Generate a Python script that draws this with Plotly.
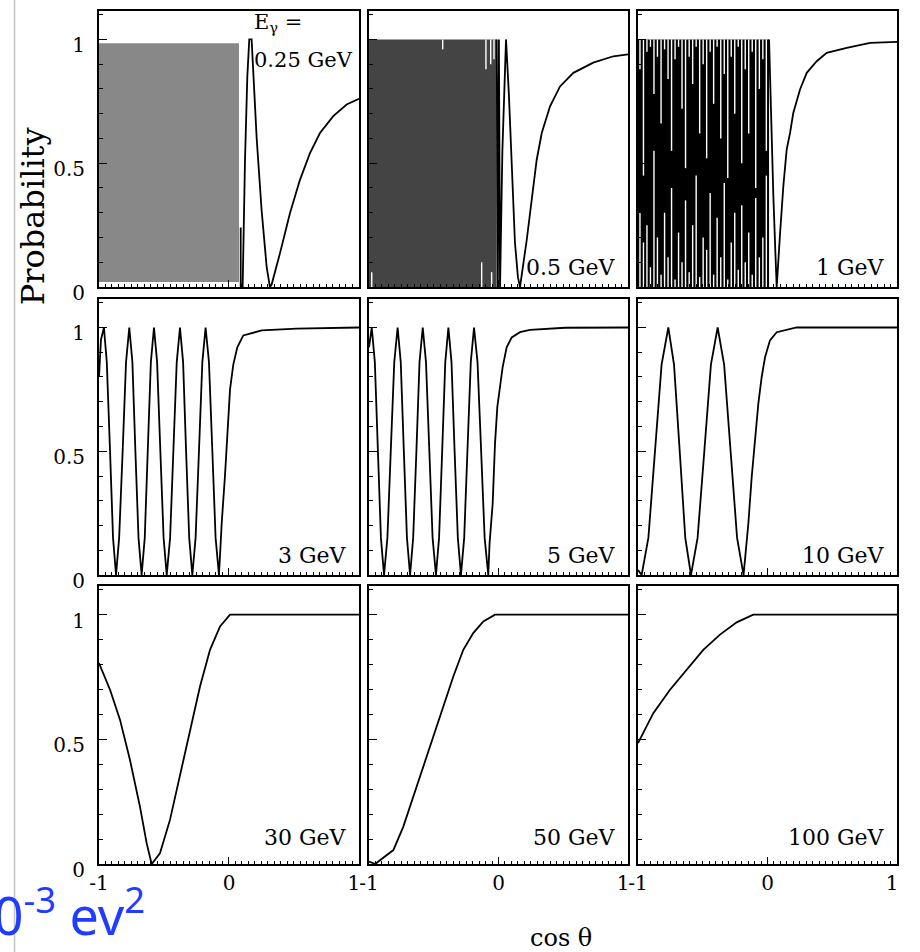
import plotly.graph_objects as go
from plotly.subplots import make_subplots

# panel labels (neutrino energy)
energies = ["0.25 GeV", "0.5 GeV", "1 GeV", "3 GeV", "5 GeV", "10 GeV", "30 GeV", "50 GeV", "100 GeV"]

# ---- values: cos(theta) vs probability ----
# fast-oscillation blocks (drawn as solid bands in the original)
band_025_x = [-1.0, 0.077]
band_025_p = [0.02, 0.985]
band_05_x = [-1.0, -0.014]
band_05_p = [0.0, 1.0]
band_1_x = [-1.0, 0.012]
band_1_p = [0.0, 1.0]

# white aliasing streaks inside the bands
streak_05_x = [-0.979, -0.431, -0.13, -0.097, -0.06, -0.053, -0.035]
streak_05_top = [1.0, 0.96, 1.0, 0.88, 0.9, 1.0, 0.92]
streak_05_bot = [0.06, 0.0, 0.1, 0.0, 0.0, 0.06, 0.0]

streak_1_x = [-0.985, -0.958, -0.931, -0.904, -0.877, -0.850, -0.822, -0.795, -0.768, -0.741,
              -0.714, -0.687, -0.660, -0.633, -0.605, -0.578, -0.551, -0.524, -0.497, -0.470,
              -0.443, -0.416, -0.389, -0.361, -0.334, -0.307, -0.280, -0.253, -0.226, -0.199,
              -0.172, -0.145, -0.118, -0.091, -0.063, -0.036, -0.009]
streak_1_top = [0.88, 0.45, 0.95, 0.97, 0.78, 0.93, 0.66, 0.96, 0.84, 0.55, 0.92, 0.97, 0.72,
                0.48, 0.93, 0.82, 0.97, 0.62, 0.90, 0.52, 0.95, 0.74, 0.97, 0.60, 0.86, 0.44,
                0.93, 0.70, 0.97, 0.50, 0.88, 0.62, 0.95, 0.40, 0.80, 0.92, 0.55]
streak_1_bot = [0.30, 0.18, 0.25, 0.08, 0.55, 0.20, 0.05, 0.30, 0.12, 0.40, 0.03, 0.22, 0.10,
                0.35, 0.06, 0.25, 0.45, 0.04, 0.20, 0.15, 0.38, 0.05, 0.28, 0.12, 0.42, 0.03,
                0.18, 0.30, 0.07, 0.33, 0.10, 0.22, 0.05, 0.36, 0.12, 0.20, 0.45]

cos_025 = [0.09, 0.09, 0.105, 0.123, 0.141, 0.156, 0.174, 0.213, 0.251, 0.29, 0.315, 0.328,
           0.392, 0.469, 0.546, 0.623, 0.7, 0.802, 0.905, 1.0]
p_025 = [0.24, 0.0, 0.0, 0.51, 0.85, 1.0, 1.0, 0.6, 0.31, 0.08, 0.0, 0.01,
         0.136, 0.298, 0.433, 0.541, 0.622, 0.69, 0.737, 0.76]

cos_05 = [-0.014, -0.005, 0.003, 0.012, 0.03, 0.058, 0.08, 0.102, 0.127, 0.15, 0.166, 0.218,
          0.256, 0.295, 0.334, 0.398, 0.475, 0.578, 0.732, 0.887, 1.0]
p_05 = [1.0, 0.0, 1.0, 0.0, 0.55, 1.0, 0.78, 0.46, 0.18, 0.04, 0.0, 0.19,
        0.352, 0.514, 0.622, 0.73, 0.81, 0.865, 0.906, 0.932, 0.94]

cos_1 = [0.012, 0.03, 0.045, 0.06, 0.071, 0.097, 0.122, 0.148, 0.174, 0.199, 0.251, 0.303,
         0.38, 0.457, 0.612, 0.792, 1.0]
p_1 = [1.0, 0.62, 0.37, 0.15, 0.0, 0.217, 0.406, 0.555, 0.622, 0.703, 0.798, 0.865,
       0.912, 0.946, 0.966, 0.986, 0.99]

cos_3 = [-1.0, -0.985, -0.962, -0.94, -0.915, -0.892, -0.869, -0.845, -0.818, -0.792, -0.767,
         -0.743, -0.72, -0.696, -0.672, -0.648, -0.625, -0.601, -0.577, -0.553, -0.528, -0.503,
         -0.479, -0.453, -0.428, -0.402, -0.377, -0.353, -0.33, -0.306, -0.282, -0.257, -0.231,
         -0.205, -0.18, -0.154, -0.128, -0.103, -0.077, -0.056, -0.031, -0.01, 0.008, 0.033,
         0.064, 0.11, 0.187, 0.252, 0.52, 1.0]
p_3 = [0.80, 0.95, 1.0, 0.86, 0.5, 0.15, 0.0, 0.15, 0.5, 0.86, 1.0,
       0.86, 0.5, 0.15, 0.0, 0.15, 0.5, 0.86, 1.0, 0.86, 0.5, 0.15,
       0.0, 0.15, 0.5, 0.86, 1.0, 0.86, 0.5, 0.15, 0.0, 0.15, 0.5,
       0.86, 1.0, 0.86, 0.5, 0.15, 0.0, 0.21, 0.40, 0.61, 0.75, 0.85,
       0.92, 0.968, 0.98, 0.988, 0.995, 1.0]

cos_5 = [-1.0, -0.979, -0.955, -0.931, -0.908, -0.884, -0.858, -0.832, -0.805, -0.779,
         -0.755, -0.731, -0.707, -0.683, -0.659, -0.634, -0.61, -0.585, -0.56, -0.534,
         -0.509, -0.483, -0.459, -0.435, -0.411, -0.387, -0.363, -0.339, -0.314, -0.29,
         -0.265, -0.24, -0.214, -0.189, -0.162, -0.134, -0.107, -0.079, -0.069, -0.045,
         -0.027, -0.009, 0.012, 0.032, 0.063, 0.102, 0.166, 0.243, 0.514, 1.0]
p_5 = [0.92, 1.0, 0.86, 0.5, 0.15, 0.0, 0.15, 0.5, 0.86, 1.0,
       0.86, 0.5, 0.15, 0.0, 0.15, 0.5, 0.86, 1.0, 0.86, 0.5,
       0.15, 0.0, 0.15, 0.5, 0.86, 1.0, 0.86, 0.5, 0.15, 0.0,
       0.15, 0.5, 0.86, 1.0, 0.86, 0.5, 0.15, 0.0, 0.128, 0.289,
       0.531, 0.679, 0.773, 0.84, 0.92, 0.96, 0.981, 0.99, 0.999, 1.0]

cos_10 = [-1.0, -0.972, -0.92, -0.869, -0.818, -0.766, -0.722, -0.678, -0.635, -0.591,
          -0.54, -0.488, -0.437, -0.385, -0.335, -0.285, -0.235, -0.185, -0.148, -0.122,
          -0.097, -0.071, -0.045, -0.019, 0.019, 0.071, 0.225, 1.0]
p_10 = [0.02, 0.0, 0.15, 0.5, 0.85, 1.0, 0.85, 0.5, 0.15, 0.0,
        0.15, 0.5, 0.85, 1.0, 0.85, 0.5, 0.15, 0.0, 0.208, 0.396,
        0.558, 0.692, 0.8, 0.88, 0.948, 0.981, 1.0, 1.0]

cos_30 = [-1.0, -0.915, -0.838, -0.762, -0.685, -0.633, -0.595, -0.531, -0.454, -0.377,
          -0.3, -0.223, -0.146, -0.069, 0.008, 1.0]
p_30 = [0.806, 0.699, 0.578, 0.418, 0.23, 0.083, 0.0, 0.043, 0.177, 0.351,
        0.538, 0.712, 0.859, 0.953, 1.0, 1.0]

cos_50 = [-1.0, -0.95, -0.928, -0.812, -0.735, -0.658, -0.581, -0.503, -0.426, -0.349,
          -0.272, -0.195, -0.117, -0.027, 1.0]
p_50 = [0.01, 0.0, 0.01, 0.056, 0.15, 0.27, 0.39, 0.511, 0.631, 0.752,
        0.859, 0.926, 0.973, 1.0, 1.0]

cos_100 = [-1.0, -0.882, -0.753, -0.624, -0.496, -0.367, -0.238, -0.11, -0.032, 1.0]
p_100 = [0.485, 0.605, 0.699, 0.779, 0.859, 0.92, 0.969, 1.0, 1.0, 1.0]

x_ticks = [-1, 0, 1]
x_ticktext = ["-1", "0", "1\u2002"]
y_ticks = [0, 0.5, 1]
y_ticktext = ["0", "0.5", "1"]

curves = [(cos_025, p_025), (cos_05, p_05), (cos_1, p_1),
          (cos_3, p_3), (cos_5, p_5), (cos_10, p_10),
          (cos_30, p_30), (cos_50, p_50), (cos_100, p_100)]
bands = {0: (band_025_x, band_025_p, "#888888"),
         1: (band_05_x, band_05_p, "#444444"),
         2: (band_1_x, band_1_p, "#000000")}
streaks = {1: (streak_05_x, streak_05_top, streak_05_bot),
           2: (streak_1_x, streak_1_top, streak_1_bot)}

serif = "DejaVu Serif"

fig = make_subplots(rows=3, cols=3)

for i, (cx, cp) in enumerate(curves):
    r, c = i // 3 + 1, i % 3 + 1
    if i in bands:
        bx, bp, col = bands[i]
        fig.add_trace(go.Scatter(
            x=[bx[0], bx[1], bx[1], bx[0], bx[0]],
            y=[bp[0], bp[0], bp[1], bp[1], bp[0]],
            mode="lines", fill="toself", fillcolor=col,
            line=dict(width=0, color=col), hoverinfo="skip"), row=r, col=c)
    if i in streaks:
        sx, st, sb = streaks[i]
        xs, ys = [], []
        for x0, t, b in zip(sx, st, sb):
            if t < 1.0:
                xs += [x0, x0, None]
                ys += [1.0, t, None]
            if b > 0.0:
                xs += [x0, x0, None]
                ys += [0.0, b, None]
        fig.add_trace(go.Scatter(x=xs, y=ys, mode="lines",
                                 line=dict(color="white", width=1.4),
                                 hoverinfo="skip"), row=r, col=c)
    fig.add_trace(go.Scatter(x=cx, y=cp, mode="lines",
                             line=dict(color="black", width=1.8)), row=r, col=c)

# panel placement in the page
col_dom = [[0.1076, 0.3902], [0.4011, 0.6826], [0.6935, 0.975]]
row_dom = [[0.6985, 0.9885], [0.396, 0.6859], [0.0924, 0.3845]]

for r in range(3):
    for c in range(3):
        fig.update_xaxes(
            domain=col_dom[c], range=[-1, 1], showgrid=False, zeroline=False,
            showline=True, mirror=True, linecolor="black", linewidth=2,
            tickmode="array", tickvals=x_ticks, ticktext=x_ticktext,
            ticks="inside", ticklen=7, tickcolor="black",
            minor=dict(tickmode="linear", tick0=0, dtick=0.05, ticks="inside",
                       ticklen=3, tickcolor="black"),
            showticklabels=(r == 2), ticklabelstandoff=0,
            tickfont=dict(family=serif, size=20, color="black"),
            row=r + 1, col=c + 1)
        fig.update_yaxes(
            domain=row_dom[r], range=[0, 1.115], showgrid=False, zeroline=False,
            showline=True, mirror=True, linecolor="black", linewidth=2,
            tickmode="array", tickvals=y_ticks, ticktext=y_ticktext,
            ticks="inside", ticklen=8, tickcolor="black",
            minor=dict(tickmode="linear", tick0=0, dtick=0.1, ticks="inside",
                       ticklen=4, tickcolor="black"),
            showticklabels=(c == 0), ticklabelshift=6, ticklabelstandoff=8,
            tickfont=dict(family=serif, size=20, color="black"),
            row=r + 1, col=c + 1)

annos = []
label_y = [0.069, 0.07, 0.097]
for i, txt in enumerate(energies):
    n = "" if i == 0 else str(i + 1)
    if i == 0:
        annos.append(dict(text="E<sub>γ</sub> =", xref="x domain", yref="y domain",
                          x=0.59, y=0.957, xanchor="left", yanchor="middle",
                          showarrow=False, font=dict(family=serif, size=21, color="black")))
        annos.append(dict(text=txt, xref="x domain", yref="y domain",
                          x=0.59, y=0.822, xanchor="left", yanchor="middle",
                          showarrow=False, font=dict(family=serif, size=21, color="black")))
    else:
        annos.append(dict(text=txt, xref=f"x{n} domain", yref=f"y{n} domain",
                          x=0.96, y=label_y[i // 3], xanchor="right", yanchor="middle",
                          showarrow=False, font=dict(family=serif, size=22, color="black")))

annos.append(dict(text="Probability", xref="paper", yref="paper", x=0.036, y=0.773,
                  textangle=-90, showarrow=False, xanchor="center", yanchor="middle",
                  font=dict(family=serif, size=32, color="black")))
annos.append(dict(text="cos θ", xref="paper", yref="paper", x=0.61, y=0.0147,
                  showarrow=False, xanchor="center", yanchor="middle",
                  font=dict(family=serif, size=24, color="black")))
annos.append(dict(text="10<sup>-3</sup> ev<sup>2</sup>", xref="paper", yref="paper",
                  x=0.16, y=0.0, showarrow=False, xanchor="right", yanchor="bottom",
                  font=dict(family="Comic Sans MS, Noto Sans", size=52, color="#1f3cff")))

fig.update_layout(
    width=920, height=952,
    margin=dict(l=0, r=0, t=0, b=0, autoexpand=False),
    paper_bgcolor="white", plot_bgcolor="white", showlegend=False,
    annotations=annos,
    shapes=[dict(type="line", xref="paper", yref="paper", x0=0.0158, x1=0.0158,
                 y0=0, y1=1, line=dict(color="#c4c4c4", width=1.5))],
)

# the page's default 8px body margin would push the figure off its frame
fig.write_html("out.html", config={"displayModeBar": False},
               post_script="document.body.style.margin='0';document.body.style.overflow='hidden';")
